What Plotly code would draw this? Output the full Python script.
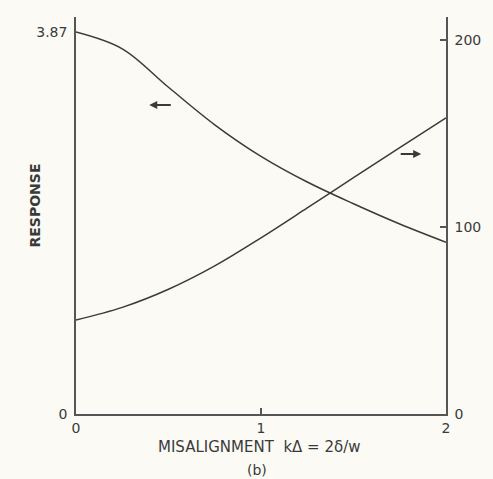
import plotly.graph_objects as go

# Data
x_vals = [0.0, 0.25, 0.5, 0.75, 1.0, 1.25, 1.5, 1.75, 2.0]
resp = [3.87, 3.70, 3.31, 2.93, 2.61, 2.35, 2.13, 1.925, 1.74]
right_vals = [50.3, 57.0, 66.7, 79.2, 94.2, 110.2, 126.4, 142.4, 158.3]

x_ticks = [0, 1, 2]
x_ticklabels = ["0", "1", "2"]
left_ticks = [0, 3.87]
left_ticklabels = ["0", "3.87"]
right_ticks = [0, 100, 200]
right_ticklabels = ["0", "100", "200"]

ink = "#3a3a3a"
bg = "#fbfaf5"
font = "DejaVu Sans"

fig = go.Figure()
fig.add_trace(go.Scatter(x=x_vals, y=resp, mode="lines",
                         line=dict(color=ink, width=1.5, shape="spline", smoothing=1.0),
                         yaxis="y", showlegend=False, hoverinfo="skip"))
fig.add_trace(go.Scatter(x=x_vals, y=right_vals, mode="lines",
                         line=dict(color=ink, width=1.5, shape="spline", smoothing=1.0),
                         yaxis="y2", showlegend=False, hoverinfo="skip"))

fig.update_layout(
    width=493, height=479,
    margin=dict(l=76, r=43, t=17, b=65),
    paper_bgcolor=bg, plot_bgcolor=bg,
    font=dict(family=font, color=ink, size=14),
    xaxis=dict(range=[0, 2], tickvals=x_ticks, ticktext=x_ticklabels, showgrid=False, zeroline=False,
               showline=True, linecolor="#555", linewidth=1.5, ticks="inside", ticklen=6, tickwidth=1.5,
               tickcolor="#555", tickfont=dict(size=14, family=font, color=ink)),
    yaxis=dict(range=[0, 4.022], tickvals=left_ticks, ticktext=left_ticklabels, showgrid=False, zeroline=False,
               showline=True, linecolor="#555", linewidth=1.5, ticks="", ticklabelstandoff=4,
               tickfont=dict(size=14, family=font, color=ink)),
    yaxis2=dict(range=[0, 212.3], tickvals=right_ticks, ticktext=right_ticklabels, overlaying="y", side="right",
                showgrid=False, zeroline=False, showline=True, linecolor="#555", linewidth=1.5,
                ticks="inside", ticklen=6, tickwidth=1.5, tickcolor="#555", ticklabelstandoff=4,
                tickfont=dict(size=14, family=font, color=ink)),
)

fig.add_annotation(text="MISALIGNMENT  kΔ = 2δ/w", xref="paper", yref="paper", x=0.495, y=-0.083,
                   showarrow=False, xanchor="center", yanchor="middle", font=dict(size=15, family=font, color=ink))
fig.add_annotation(text="(b)", xref="paper", yref="paper", x=0.49, y=-0.142,
                   showarrow=False, xanchor="center", yanchor="middle", font=dict(size=14, family=font, color=ink))
fig.add_annotation(text="<b>RESPONSE</b>", xref="paper", yref="paper", x=-0.11, y=0.526, textangle=-90,
                   showarrow=False, xanchor="center", yanchor="middle", font=dict(size=14, family=font, color=ink))

# direction arrows
fig.add_annotation(x=0.396, y=3.13, xref="x", yref="y", ax=23, ay=0, text="", showarrow=True,
                   arrowhead=2, arrowsize=0.8, arrowwidth=2, arrowcolor=ink)
fig.add_annotation(x=1.866, y=139, xref="x", yref="y2", ax=-22, ay=0, text="", showarrow=True,
                   arrowhead=2, arrowsize=0.8, arrowwidth=2, arrowcolor=ink)

fig.write_html("out.html")
